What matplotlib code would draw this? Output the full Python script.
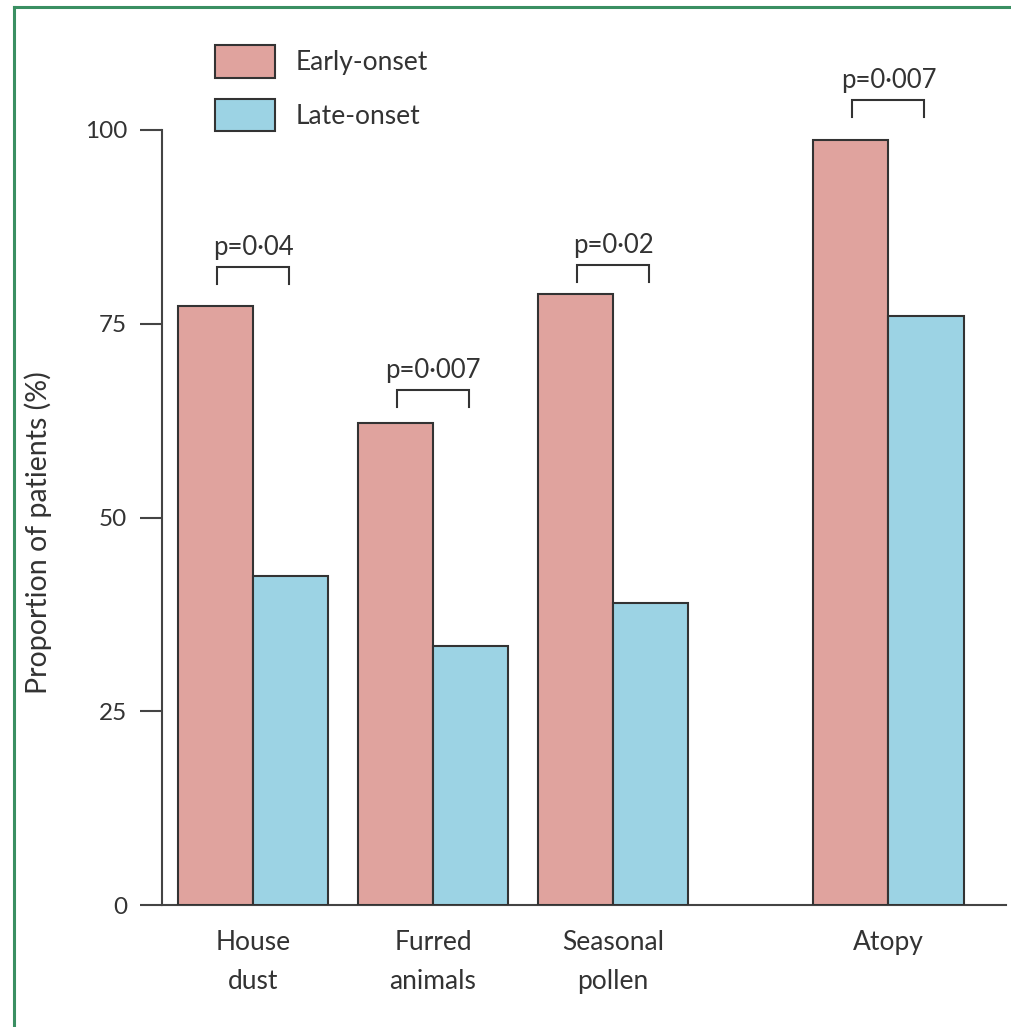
import matplotlib
matplotlib.use("Agg")
import matplotlib.pyplot as plt
from matplotlib.lines import Line2D
import numpy as np

plt.rcParams['font.family'] = ['Lato', 'DejaVu Sans']

categories = ["House\ndust", "Furred\nanimals", "Seasonal\npollen", "Atopy"]
early_onset = [77.3, 62.2, 78.8, 98.7]
late_onset = [42.5, 33.4, 39.0, 76.0]
p_labels = ["p=0·04", "p=0·007", "p=0·02", "p=0·007"]
bracket_levels = [82.3, 66.5, 82.6, 103.9]
yticks = [0, 25, 50, 75, 100]

W, H = 1011, 1027
fig = plt.figure(figsize=(W / 100, H / 100), dpi=100)
ax = fig.add_axes([162 / W, (H - 905) / H, (1006 - 162) / W, (905 - 130) / H])

early_c = "#e0a39e"
late_c = "#9cd3e4"
edge = "#333333"
txt = "#333333"

pos = np.array([0, 1, 2, 3.53])
bw = 0.417
b1 = ax.bar(pos - bw / 2, early_onset, bw, color=early_c, edgecolor=edge, linewidth=1.5, label="Early-onset", zorder=3)
b2 = ax.bar(pos + bw / 2, late_onset, bw, color=late_c, edgecolor=edge, linewidth=1.5, label="Late-onset", zorder=3)

ax.set_xlim(-0.5056, 4.183)
ax.set_ylim(0, 100)

for x, lvl, lab in zip(pos, bracket_levels, p_labels):
    xl, xr = x - 0.2, x + 0.2
    ax.plot([xl, xl, xr, xr], [lvl - 2.2, lvl, lvl, lvl - 2.2], color=edge, lw=1.5, clip_on=False, solid_joinstyle='miter')
    ax.text(x, lvl + 0.9, lab, ha='center', va='bottom', fontsize=18.5, color=txt, clip_on=False)

for s in ['top', 'right']:
    ax.spines[s].set_visible(False)
for s in ['left', 'bottom']:
    ax.spines[s].set_color("#444444")
    ax.spines[s].set_linewidth(1.5)

ax.set_yticks(yticks)
ax.set_yticklabels([str(v) for v in yticks])
ax.tick_params(axis='y', length=16, width=1.5, color="#444444", pad=9, labelsize=17.5, labelcolor=txt)
ax.set_xticks(pos)
ax.set_xticklabels(categories, linespacing=1.7)
ax.tick_params(axis='x', length=0, pad=18, labelsize=19, labelcolor=txt)

ax.set_ylabel("Proportion of patients (%)", fontsize=20.5, color=txt)
ax.yaxis.set_label_coords(-0.130, 0.48)

leg = ax.legend(handles=[b1, b2], loc='upper left', frameon=False,
                bbox_to_anchor=(215 / W, 1 - 45 / H), bbox_transform=fig.transFigure,
                borderpad=0, borderaxespad=0, handlelength=2.27, handleheight=1.52,
                labelspacing=0.8, handletextpad=0.8, fontsize=19)
for t in leg.get_texts():
    t.set_color(txt)

green = "#3a8f62"
fig.add_artist(Line2D([14 / W, 1.0], [1 - 7 / H, 1 - 7 / H], transform=fig.transFigure, color=green, lw=2.2))
fig.add_artist(Line2D([14 / W, 14 / W], [0, 1 - 7 / H], transform=fig.transFigure, color=green, lw=2.2))

fig.savefig("out.png", dpi=100, facecolor="white")
